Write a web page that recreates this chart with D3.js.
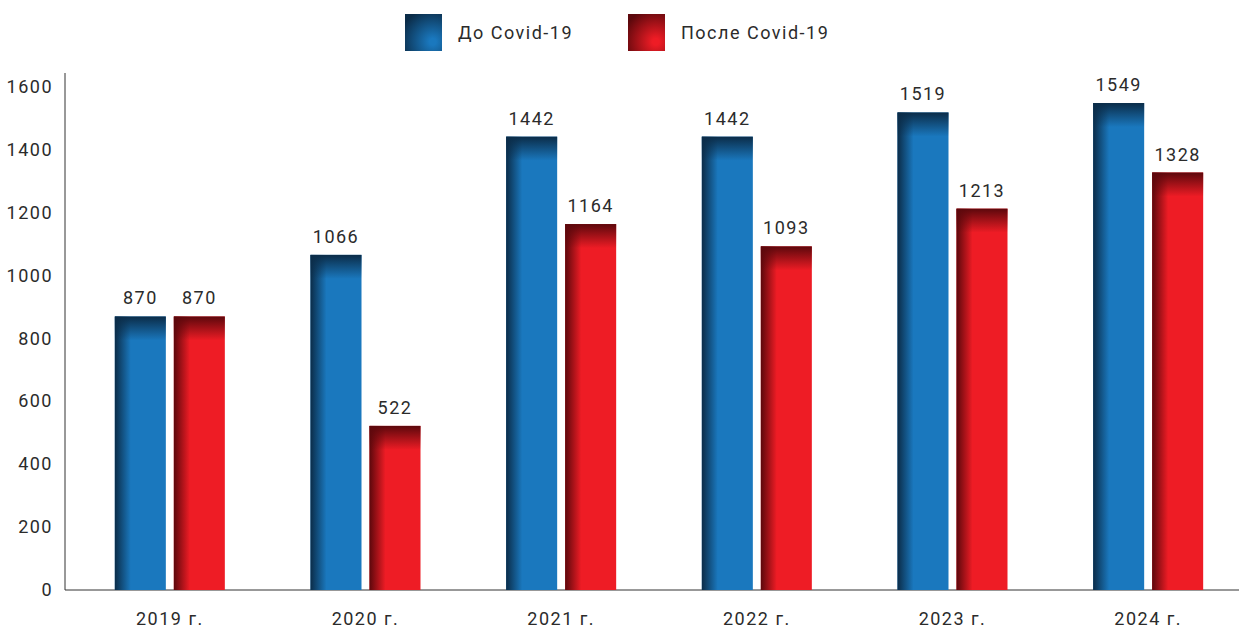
<!DOCTYPE html>
<html lang="ru">
<head>
<meta charset="UTF-8">
<title>Covid-19</title>
<script src="https://cdn.jsdelivr.net/npm/d3@7"></script>
<style>
  body { margin: 0; background: #fff; }
  text { font-family: Roboto, sans-serif; fill: #2b2b2b; letter-spacing: 1.5px; }
</style>
</head>
<body>
<script>
const years = ["2019 г.", "2020 г.", "2021 г.", "2022 г.", "2023 г.", "2024 г."];
const before = [870, 1066, 1442, 1442, 1519, 1549];
const after = [870, 522, 1164, 1093, 1213, 1328];
const seriesNames = ["До Covid-19", "После Covid-19"];
const yTicks = [0, 200, 400, 600, 800, 1000, 1200, 1400, 1600];

const w = 1239, h = 631;
const svg = d3.select("body").append("svg").attr("width", w).attr("height", h);

const palette = [
  { base: "#1a78be", dark: "#0b2c48" },
  { base: "#ee1c25", dark: "#5c080c" }
];

// gradients: base colour + dark top band + dark left edge
const defs = svg.append("defs");
palette.forEach((p, i) => {
  let top = defs.append("linearGradient").attr("id", "top" + i)
    .attr("x1", 0).attr("y1", 0).attr("x2", 0).attr("y2", 1);
  top.append("stop").attr("offset", 0).attr("stop-color", p.dark).attr("stop-opacity", 1);
  top.append("stop").attr("offset", 1).attr("stop-color", p.dark).attr("stop-opacity", 0);
  let left = defs.append("linearGradient").attr("id", "left" + i)
    .attr("x1", 0).attr("y1", 0).attr("x2", 1).attr("y2", 0);
  left.append("stop").attr("offset", 0).attr("stop-color", p.dark).attr("stop-opacity", 1);
  left.append("stop").attr("offset", 1).attr("stop-color", p.dark).attr("stop-opacity", 0);
  let sw = defs.append("radialGradient").attr("id", "sw" + i)
    .attr("cx", 0.75).attr("cy", 0.75).attr("r", 0.9);
  sw.append("stop").attr("offset", 0.1).attr("stop-color", p.base);
  sw.append("stop").attr("offset", 1).attr("stop-color", p.dark);
});

const x0 = d3.scaleBand().domain(years).range([72, 1246]);
const x1 = d3.scaleBand().domain([0, 1])
  .range([x0.bandwidth() / 2 - 55, x0.bandwidth() / 2 + 55]).paddingInner(8 / 59);
const y = d3.scaleLinear().domain([0, 1600]).range([590, 87]);

// axes
svg.append("line").attr("x1", 65).attr("x2", 65).attr("y1", 73).attr("y2", 590)
  .attr("stroke", "#333").attr("stroke-width", 1);
svg.append("line").attr("x1", 65).attr("x2", w).attr("y1", 590).attr("y2", 590)
  .attr("stroke", "#333").attr("stroke-width", 1);

svg.append("g").selectAll("text").data(yTicks).enter().append("text")
  .attr("x", 53).attr("y", d => y(d) + 6)
  .attr("text-anchor", "end").attr("font-size", 18)
  .text(d => d);

svg.append("g").selectAll("text").data(years).enter().append("text")
  .attr("x", d => x0(d) + x0.bandwidth() / 2).attr("y", 625)
  .attr("text-anchor", "middle").attr("font-size", 18)
  .text(d => d);

// bars
const rows = [];
years.forEach((yr, i) => {
  rows.push({ year: yr, s: 0, v: before[i] });
  rows.push({ year: yr, s: 1, v: after[i] });
});

const bars = svg.append("g").selectAll("g").data(rows).enter().append("g")
  .attr("transform", d => "translate(" + (x0(d.year) + x1(d.s)) + ",0)");

bars.append("rect").attr("y", d => y(d.v)).attr("width", x1.bandwidth())
  .attr("height", d => 590 - y(d.v)).attr("fill", d => palette[d.s].base);
bars.append("rect").attr("y", d => y(d.v)).attr("width", 16)
  .attr("height", d => 590 - y(d.v)).attr("fill", d => "url(#left" + d.s + ")");
bars.append("rect").attr("y", d => y(d.v)).attr("width", x1.bandwidth())
  .attr("height", 24).attr("fill", d => "url(#top" + d.s + ")");

bars.append("text").attr("x", x1.bandwidth() / 2).attr("y", d => y(d.v) - 12)
  .attr("text-anchor", "middle").attr("font-size", 18)
  .text(d => d.v);

// legend
const legendX = [405, 628];
const legend = svg.append("g").selectAll("g").data(seriesNames).enter().append("g")
  .attr("transform", (d, i) => "translate(" + legendX[i] + ",14)");
legend.append("rect").attr("width", 37).attr("height", 37).attr("fill", (d, i) => "url(#sw" + i + ")");
legend.append("text").attr("x", 53).attr("y", 25).attr("font-size", 18).text(d => d);
</script>
</body>
</html>
